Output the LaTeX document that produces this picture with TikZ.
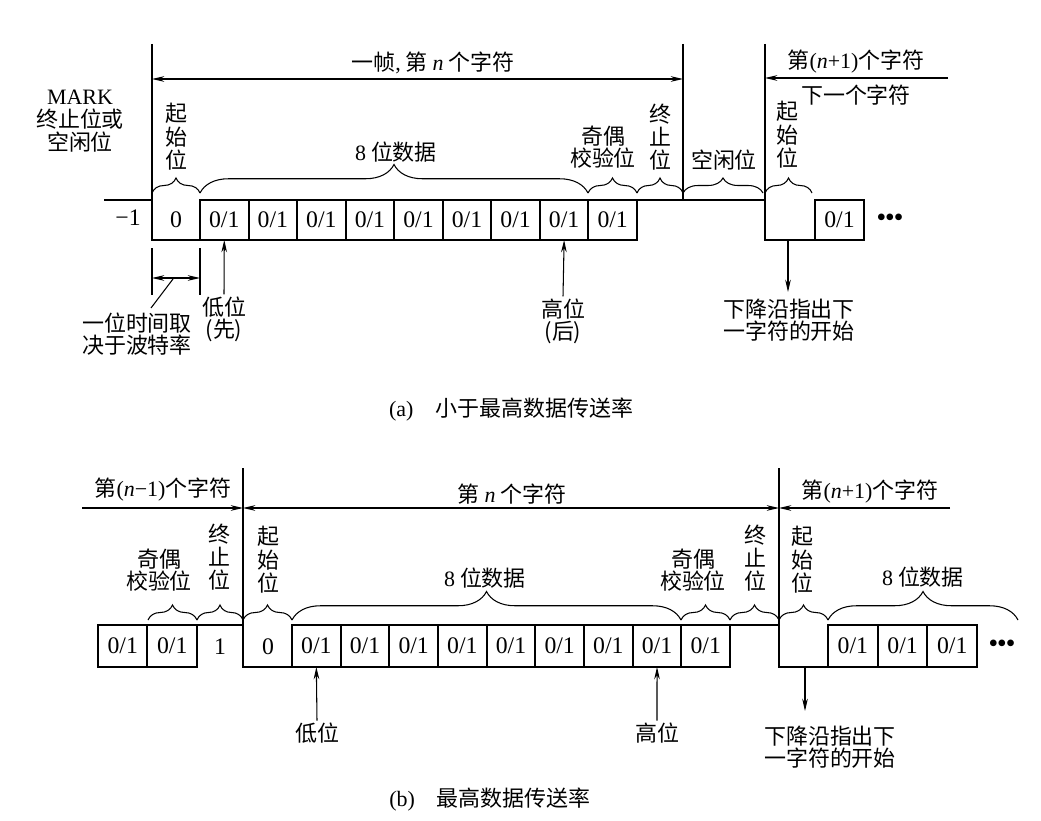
\documentclass[tikz,border=0pt]{standalone}
\usepackage{fontspec}
\setmainfont{Liberation Serif}
\newfontfamily\cjk{Noto Sans CJK SC}
\usetikzlibrary{arrows.meta,decorations.pathreplacing}
\newcommand{\lat}[1]{{\rmfamily #1}}
\begin{document}
\begin{tikzpicture}[x=0.02cm,y=-0.02cm,
  every node/.style={inner sep=1pt},
  lbl/.style={font=\cjk\fontsize{12.5}{12.5}\selectfont, align=center},
  vlbl/.style={font=\cjk\fontsize{12.5}{13.3}\selectfont, align=center},
  num/.style={font=\rmfamily\fontsize{13.5}{14}\selectfont},
  bitbox/.style={draw, line width=1.1pt, minimum height=0.8cm, minimum width=#1,
    inner sep=0pt, outer sep=0pt, font=\rmfamily\fontsize{13.5}{14}\selectfont},
  bitbox/.default=0.971cm,
  sig/.style={line width=1.1pt},
  thinl/.style={line width=0.6pt},
  arr/.style={line width=0.6pt, -{Stealth[length=7pt,width=3.2pt]}},
  darr/.style={line width=0.6pt, {Stealth[length=7pt,width=3.2pt]}-{Stealth[length=7pt,width=3.2pt]}},
  sbrace/.style={decorate, decoration={brace, amplitude=0.3cm}, line width=0.6pt},
  bbrace/.style={decorate, decoration={brace, amplitude=0.57cm}, line width=0.6pt},
  dotsty/.style={font=\rmfamily\fontsize{14}{14}\selectfont\bfseries}]
\fill[white] (0,0) rectangle (1041,821);
\useasboundingbox (0,0) rectangle (1041,821);

% ================= (a) =================
% vertical frame markers
\coordinate (vA1t) at (152,44); \coordinate (vA1b) at (152,200);
\coordinate (vA2t) at (683,44); \coordinate (vA2b) at (683,200);
\coordinate (vA3t) at (765,44); \coordinate (vA3b) at (765,200);
\draw[thinl] (vA1t) -- (vA1b);
\draw[thinl] (vA2t) -- (vA2b);
\draw[thinl] (vA3t) -- (vA3b);
% top arrows
\coordinate (fA1) at (152,79); \coordinate (fA2) at (683,79);
\coordinate (fA3) at (948,78); \coordinate (fA4) at (765,78);
\draw[darr] (fA1) -- (fA2);
\draw[arr] (fA3) -- (fA4);
\node[lbl] (frameA) at (433,63) {一帧\lat{,} 第 \lat{\textit{n}} 个字符};
\node[lbl] (nextcA) at (856,62) {第\lat{(\textit{n}+1)}个字符};
\node[lbl] (nextdA) at (856,95) {下一个字符};
\node[vlbl] (markA) at (80,121) {\lat{MARK}\\终止位或\\空闲位};

% signal boxes
\foreach \i in {1,...,9} \node[bitbox] (a\i) at ({200+48.55*(\i-0.5)},220) {0/1};
\node[bitbox=0.98cm] (a10) at (839.5,220) {0/1};
\node[dotsty] (dotsA) at (890,220) {•••};
\node[num] (m1A) at (128,218) {−1};
\node[num] (zeroA) at (176,220) {0};
\coordinate (sA0) at (104,200);
\draw[sig] (sA0) -- (152,200) -- (152,240) -- (a1.south west);
\draw[sig] (a9.north east) -- (765,200) -- (765,240) -- (a10.south west);

% braces (a)
\draw[sbrace] (152,193) -- (200,193);
\draw[bbrace] (200,193) -- (588,193);
\draw[sbrace] (588,193) -- (637,193);
\draw[sbrace] (637,193) -- (683,193);
\draw[sbrace] (683,193) -- (763,193);
\draw[sbrace] (765,193) -- (812,193);
\node[vlbl] (startA) at (176,137) {起\\始\\位};
\node[lbl] (dataA) at (396,152) {\lat{8} 位数据};
\node[lbl] (parA) at (603,147.5) {奇偶\\校验位};
\node[vlbl] (stopA) at (660,137) {终\\止\\位};
\node[lbl] (idleA) at (724,160) {空闲位};
\node[vlbl] (start2A) at (787,135) {起\\始\\位};

% bit time dimension
\coordinate (dA1t) at (152,248); \coordinate (dA1b) at (152,295);
\coordinate (dA2t) at (200,248); \coordinate (dA2b) at (200,295);
\draw[thinl] (dA1t) -- (dA1b);
\draw[thinl] (dA2t) -- (dA2b);
\draw[darr] (152,278) -- (200,278);
\node[lbl] (bitTimeA) at (137,334) {一位时间取\\决于波特率};
\coordinate (leadA) at (173,279);
\draw[thinl] (leadA) -- (151,308);

% low / high / falling edge
\node[lbl] (lowA) at (224,319) {低位\\(先)};
\node[lbl] (highA) at (563,321) {高位\\(后)};
\draw[arr] (lowA.north) -- (a1.south);
\draw[arr] (highA.north) -- (a8.south);
\node[lbl] (fallLA) at (789,320.5) {下降沿指出下\\一字符的开始};
\coordinate (fallA) at (788,240); \coordinate (fallAe) at (788,292);
\draw[arr] (fallA) -- (fallAe);

\node[lbl] (capA) at (511,410) {\lat{(a)}\quad 小于最高数据传送率};

% ================= (b) =================
\coordinate (vB1t) at (243,468); \coordinate (vB1b) at (243,625);
\coordinate (vB2t) at (779,468); \coordinate (vB2b) at (779,625);
\draw[thinl] (vB1t) -- (vB1b);
\draw[thinl] (vB2t) -- (vB2b);
\coordinate (fB0) at (82,508); \coordinate (fB1) at (243,508);
\coordinate (fB2) at (779,508); \coordinate (fB3) at (950,508);
\draw[arr] (fB0) -- (fB1);
\draw[darr] (fB1) -- (fB2);
\draw[arr] (fB3) -- (fB2);
\node[lbl] (prevcB) at (163,490) {第\lat{(\textit{n}−1)}个字符};
\node[lbl] (curcB) at (512,494) {第 \lat{\textit{n}} 个字符};
\node[lbl] (nextcB) at (870,492) {第\lat{(\textit{n}+1)}个字符};

% signal boxes
\node[bitbox=0.99cm, minimum height=0.84cm] (bp1) at (122.7,646) {0/1};
\node[bitbox=0.99cm, minimum height=0.84cm] (bp2) at (172.2,646) {0/1};
\foreach \i in {1,...,9} \node[bitbox=0.973cm, minimum height=0.84cm] (bd\i) at ({292+48.67*(\i-0.5)},646) {0/1};
\foreach \i in {1,...,3} \node[bitbox=0.994cm, minimum height=0.84cm] (bn\i) at ({828+49.7*(\i-0.5)},646) {0/1};
\node[dotsty] (dotsB) at (1002,646) {•••};
\node[num] (oneB) at (220,647) {1};
\node[num] (zeroB) at (268,647) {0};
\draw[sig] (bp2.north east) -- (243,625) -- (243,667) -- (bd1.south west);
\draw[sig] (bd9.north east) -- (779,625) -- (779,667) -- (bn1.south west);

% braces (b)
\draw[sbrace] (148,620) -- (197,620);
\draw[sbrace] (197,620) -- (243,620);
\draw[sbrace] (243,620) -- (292,620);
\draw[bbrace] (292,620) -- (681,620);
\draw[sbrace] (681,620) -- (730,620);
\draw[sbrace] (730,620) -- (779,620);
\draw[sbrace] (779,620) -- (828,620);
\draw[bbrace] (828,620) -- (1018,620);
\node[lbl] (par1B) at (159,570) {奇偶\\校验位};
\node[vlbl] (stop1B) at (219,557) {终\\止\\位};
\node[vlbl] (start1B) at (268,560) {起\\始\\位};
\node[lbl] (data1B) at (485,578) {\lat{8} 位数据};
\node[lbl] (par2B) at (693,570) {奇偶\\校验位};
\node[vlbl] (stop2B) at (755,558) {终\\止\\位};
\node[vlbl] (start2B) at (802,560) {起\\始\\位};
\node[lbl] (data2B) at (923,577) {\lat{8} 位数据};

% low / high / falling edge
\node[lbl] (lowB) at (317,733) {低位};
\node[lbl] (highB) at (657,733) {高位};
\draw[arr] (lowB.north) -- (bd1.south);
\draw[arr] (highB.north) -- (bd8.south);
\node[lbl] (fallLB) at (830,747.5) {下降沿指出下\\一字符的开始};
\coordinate (fallB) at (805,667); \coordinate (fallBe) at (805,711);
\draw[arr] (fallB) -- (fallBe);

\node[lbl] (capB) at (490,800) {\lat{(b)}\quad 最高数据传送率};
\end{tikzpicture}
\end{document}
